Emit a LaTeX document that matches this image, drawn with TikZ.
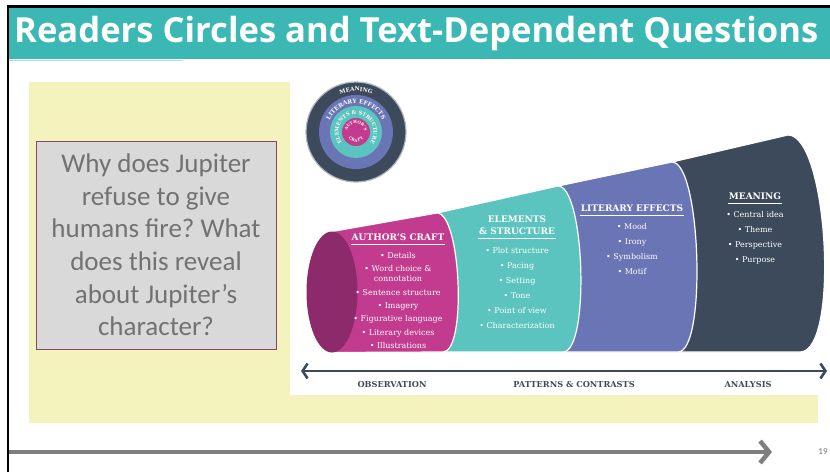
\documentclass[tikz,border=0pt]{standalone}
\usepackage{fontspec}
\setmainfont{Carlito}
\newfontfamily\titlefont{Open Sans}
\newfontfamily\slabfont{DejaVu Serif}
\usepackage{xcolor}
\usetikzlibrary{arrows.meta, positioning, calc, decorations.text}

\definecolor{barteal}{HTML}{3CB8B4}
\definecolor{paleteal}{HTML}{A9DFDC}
\definecolor{paleyellow}{HTML}{F4F3BD}
\definecolor{boxgray}{HTML}{D9D9D9}
\definecolor{boxedge}{HTML}{8A4468}
\definecolor{qgray}{HTML}{727272}
\definecolor{craftpink}{HTML}{C23B8E}
\definecolor{craftface}{HTML}{8C2A6C}
\definecolor{structteal}{HTML}{5CC4BE}
\definecolor{effectblue}{HTML}{6A75B6}
\definecolor{meaningnavy}{HTML}{3D4A5B}
\definecolor{ringedge}{HTML}{AEB6C4}
\definecolor{arrowgray}{HTML}{7F7F7F}

\frenchspacing
\begin{document}
\begin{tikzpicture}[
  x=1pt, y=1pt,
  every node/.style={inner sep=0pt},
  segment/.style={draw=white, line width=1.2pt},
  heading/.style={font=\slabfont\bfseries\fontsize{9}{12}\selectfont, text=white, align=center, inner sep=1pt},
  items/.style={font=\slabfont\fontsize{8}{#1}\selectfont, text=white, align=center},
  stage/.style={font=\slabfont\bfseries\fontsize{8.2}{9}\selectfont, text=meaningnavy},
  rule/.style={draw=white, line width=0.6pt},
  ring/.style={circle, minimum size=#1},
  ringtext/.style 2 args={decorate, decoration={text along path, text align=center,
      text color=white, text={|\slabfont\bfseries\fontsize{#1}{#1}\selectfont|#2}}}
]
  \useasboundingbox (0,0) rectangle (830,472);
  % ----- slide background -----
  \fill[paleyellow] (29,49) rectangle (818,390);
  \fill[white] (290,77) rectangle (830,390);
  \fill[barteal] (9,413) rectangle (830,464);
  \draw[paleteal, line width=1.5pt] (9,411.5) -- (183,411.5);
  \node[anchor=base west, font=\titlefont\bfseries\fontsize{34.6}{35}\selectfont, text=white]
    (title) at (14,429) {Readers Circles and Text-Dependent Questions};
  % ----- bottom arrow and page number -----
  \coordinate (arrS) at (9,20);
  \coordinate (arrE) at (772,20);
  \draw[arrowgray, line width=4.5pt, -{Straight Barb[length=9pt,width=22pt]}] (arrS) -- (arrE);
  \node[text=qgray, font=\fontsize{9}{9}\selectfont] (pageno) at (823,20) {19};
  \draw[black, line width=2.5pt] (8,0) -- (8,465.5) -- (830,465.5);
  % ----- question box -----
  \node[draw=boxedge, line width=0.8pt, fill=boxgray, minimum width=240pt, minimum height=208pt,
    align=center, text=qgray, font=\fontsize{27}{32.6}\selectfont] (question) at (156,227)
    {Why does Jupiter\\refuse to give\\humans fire? What\\does this reveal\\about Jupiter’s\\character?};
  % ----- nested rings -----
  \node[ring=100pt, fill=meaningnavy, draw=ringedge, line width=1.2pt] (rM) at (356,340) {};
  \node[ring=74pt, fill=effectblue] (rE) at (rM.center) {};
  \node[ring=52pt, fill=structteal] (rS) at (rM.center) {};
  \node[ring=28pt, fill=craftpink] (rC) at (rM.center) {};
  \path[ringtext={5.6}{MEANING}] ($(rM.center)+(150:41)$) arc[start angle=150, end angle=30, radius=41];
  \path[ringtext={5.8}{LITERARY EFFECTS}] ($(rM.center)+(190:28.8)$) arc[start angle=190, end angle=-10, radius=28.8];
  \path[ringtext={5.1}{ELEMENTS {\&} STRUCTURE}] ($(rM.center)+(250:17.5)$) arc[start angle=250, end angle=-70, radius=17.5];
  \path[ringtext={4}{AUTHOR’S}] ($(rM.center)+(190:8.5)$) arc[start angle=190, end angle=-10, radius=8.5];
  % bottom word, letter by letter
  \foreach \ch [count=\i] in {C,R,A,F,T} {
    \pgfmathsetmacro\ang{210+20*\i}
    \node[text=white, font=\slabfont\bfseries\fontsize{4}{4}\selectfont, rotate=\ang-270]
      (craft\i) at ($(rM.center)+(\ang:8.6)$) {\ch};
  }
  % ----- cone segments (right to left) -----
  \coordinate (c0t) at (332,240.5);
  \coordinate (c0b) at (332,119.5);
  \coordinate (c1t) at (437,259);
  \coordinate (c1b) at (443,120);
  \coordinate (c2t) at (558,286);
  \coordinate (c2b) at (563,120);
  \coordinate (c3t) at (672,310);
  \coordinate (c3b) at (678,120);
  \coordinate (c4t) at (788,337);
  \coordinate (c4b) at (800,120);
  \coordinate (face) at (332,180);
  \path[segment, fill=meaningnavy] (c3t) -- (c4t) .. controls +(40,0) and +(40,0) .. (c4b) -- (c3b) -- cycle;
  \path[segment, fill=effectblue] (c2t) -- (c3t) .. controls +(29,0) and +(29,0) .. (c3b) -- (c2b) -- cycle;
  \path[segment, fill=structteal] (c1t) -- (c2t) .. controls +(27,0) and +(27,0) .. (c2b) -- (c1b) -- cycle;
  \path[segment, fill=craftpink] (c0t) -- (c1t) .. controls +(24,0) and +(24,0) .. (c1b) -- (c0b) -- cycle;
  \fill[craftface] (face) ellipse [x radius=25.5, y radius=60.5];
  % ----- segment texts -----
  \node[heading] (hCraft) at (398,235) {AUTHOR’S CRAFT};
  \draw[rule] ([yshift=-2.5pt]hCraft.south west) -- ([yshift=-2.5pt]hCraft.south east);
  \node[items=13.3, below=10.5pt of hCraft] (iCraft)
    {• Details\\• Word choice \&\\[-3pt]connotation\\• Sentence structure\\• Imagery\\• Figurative language\\• Literary devices\\• Illustrations};
  \node[heading] (hStruct) at (517,247) {ELEMENTS\\\& STRUCTURE};
  \draw[rule] ([yshift=-2.5pt]hStruct.south west) -- ([yshift=-2.5pt]hStruct.south east);
  \node[items=15, below=11.5pt of hStruct] (iStruct)
    {• Plot structure\\• Pacing\\• Setting\\• Tone\\• Point of view\\• Characterization};
  \node[heading] (hEffect) at (632,264) {LITERARY EFFECTS};
  \draw[rule] ([yshift=-2.5pt]hEffect.south west) -- ([yshift=-2.5pt]hEffect.south east);
  \node[items=15, below=10.5pt of hEffect] (iEffect) {• Mood\\• Irony\\• Symbolism\\• Motif};
  \node[heading] (hMean) at (755,276) {MEANING};
  \draw[rule] ([yshift=-2.5pt]hMean.south west) -- ([yshift=-2.5pt]hMean.south east);
  \node[items=15, below=10.5pt of hMean] (iMean) {• Central idea\\• Theme\\• Perspective\\• Purpose};
  % ----- stage axis -----
  \coordinate (obsL) at (301,101);
  \coordinate (anaR) at (827,101);
  \draw[meaningnavy, line width=2.6pt, {Straight Barb[length=5pt,width=15pt]}-{Straight Barb[length=5pt,width=15pt]}] (obsL) -- (anaR);
  \node[stage] (sObs) at (392,87) {OBSERVATION};
  \node[stage] (sPat) at (574,87) {PATTERNS \& CONTRASTS};
  \node[stage] (sAna) at (748,87) {ANALYSIS};
\end{tikzpicture}
\end{document}
